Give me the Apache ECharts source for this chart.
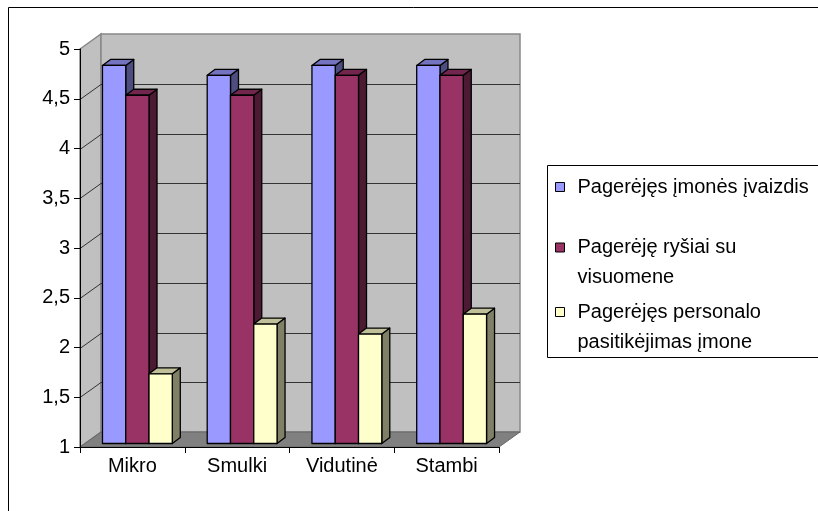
<!DOCTYPE html>
<html>
<head>
<meta charset="utf-8">
<script src="https://cdn.jsdelivr.net/npm/echarts@6/dist/echarts.min.js"></script>
<style>html,body{margin:0;padding:0;background:#fff;}#c{width:818px;height:511px;}</style>
</head>
<body>
<div id="c"></div>
<script>
// ---- data ----
const categories = ['Mikro', 'Smulki', 'Vidutinė', 'Stambi'];
const seriesNames = ['Pagerėjęs įmonės įvaizdis', 'Pagerėję ryšiai su visuomene', 'Pagerėjęs personalo pasitikėjimas įmone'];
const legendLabels = ['Pagerėjęs įmonės įvaizdis', 'Pagerėję ryšiai su\nvisuomene', 'Pagerėjęs personalo\npasitikėjimas įmone'];
const imageValues = [4.8, 4.7, 4.8, 4.8];
const relationsValues = [4.5, 4.5, 4.7, 4.7];
const trustValues = [1.7, 2.2, 2.1, 2.3];
const yMin = 1, yMax = 5, yStep = 0.5;

// ---- styles ----
const FONT = '"Liberation Sans", Arial, sans-serif';
const FS = 20;
const LH = 30;
const frontColors = ['#9999ff', '#993366', '#ffffcc'];
const sideColors = ['#4d4d80', '#4d1a33', '#808066'];
const topColors = ['#7373bf', '#73264d', '#bfbf99'];
const WDX = 21, WDY = -15;      // wall depth
const SX = 5, SY = -3.5;        // bar placement offset
const BDX = 8, BDY = -6;        // bar depth

const allValues = [imageValues, relationsValues, trustValues];

function barRenderer(si) {
  return function (params, api) {
    const cat = api.value(0), val = api.value(1);
    const top = api.coord([cat, val]);
    const base = api.coord([cat, yMin]);
    const band = api.size([1, 0])[0];
    const w = band * 2 / 9;
    const x0 = top[0] - band / 3 + si * w + SX;
    const x1 = x0 + w;
    const yt = top[1] + SY;
    const yb = base[1] + SY;
    const st = { stroke: '#000', lineWidth: 1.3, lineJoin: 'round' };
    return {
      type: 'group',
      children: [
        { type: 'polygon', shape: { points: [[x1, yt], [x1 + BDX, yt + BDY], [x1 + BDX, yb + BDY], [x1, yb]] },
          style: Object.assign({ fill: sideColors[si] }, st) },
        { type: 'polygon', shape: { points: [[x0, yt], [x0 + BDX, yt + BDY], [x1 + BDX, yt + BDY], [x1, yt]] },
          style: Object.assign({ fill: topColors[si] }, st) },
        { type: 'rect', shape: { x: x0, y: yt, width: w, height: yb - yt },
          style: Object.assign({ fill: frontColors[si] }, st) }
      ]
    };
  };
}

function wallRenderer(params, api) {
  const cs = params.coordSys;
  const gx = cs.x, gw = cs.width;
  const yTop = api.coord([0, yMax])[1];
  const yBot = api.coord([0, yMin])[1];
  const children = [];
  children.push({ type: 'polygon', shape: { points: [[gx, yTop], [gx + WDX, yTop + WDY], [gx + WDX, yBot + WDY], [gx, yBot]] },
    style: { fill: '#c0c0c0', stroke: '#888', lineWidth: 1.5 } });
  children.push({ type: 'rect', shape: { x: gx + WDX, y: yTop + WDY, width: gw, height: yBot - yTop },
    style: { fill: '#c0c0c0', stroke: '#888', lineWidth: 1.5 } });
  for (let v = yMin + yStep; v < yMax - 1e-9; v += yStep) {
    const y = Math.round(api.coord([0, v])[1]) + 0.5;
    children.push({ type: 'line', shape: { x1: gx + WDX, y1: y + WDY, x2: gx + gw + WDX, y2: y + WDY },
      style: { stroke: '#333', lineWidth: 1 } });
    children.push({ type: 'line', shape: { x1: gx, y1: y, x2: gx + WDX, y2: y + WDY },
      style: { stroke: '#333', lineWidth: 1 } });
  }
  children.push({ type: 'polygon', shape: { points: [[gx, yBot], [gx + WDX, yBot + WDY], [gx + gw + WDX, yBot + WDY], [gx + gw, yBot]] },
    style: { fill: '#808080', stroke: '#666', lineWidth: 1 } });
  return { type: 'group', children: children };
}

const series = [{
  type: 'custom', name: '__wall', silent: true, z: 1,
  renderItem: wallRenderer, data: [[0, yMin]], legendHoverLink: false
}];
for (let i = 0; i < 3; i++) {
  series.push({
    type: 'custom', name: seriesNames[i], z: 2 + i,
    itemStyle: { color: frontColors[i] },
    renderItem: barRenderer(i),
    data: allValues[i].map((v, k) => [k, v])
  });
}

// legend: icon aligned with the first text line (an empty leading line keeps the block centred on line 1)
const legendCenters = [187, 247.5, 312];
const legends = seriesNames.map((n, i) => {
  const parts = legendLabels[i].split('\n');
  const extra = parts.length - 1;
  const label = '\n'.repeat(extra) + legendLabels[i];
  return {
    left: 555, top: legendCenters[i] - LH / 2 - extra * LH, padding: 0,
    orient: 'vertical', itemWidth: 9, itemHeight: 9,
    data: [{ name: n, icon: 'rect' }],
    itemStyle: { borderColor: '#000', borderWidth: 1 },
    formatter: () => label,
    textStyle: { fontFamily: FONT, fontSize: FS, color: '#000', lineHeight: LH, padding: [0, 0, 0, 8] }
  };
});

const chart = echarts.init(document.getElementById('c'), null, { renderer: 'canvas' });
chart.setOption({
  animation: false,
  backgroundColor: '#fff',
  graphic: [
    { type: 'rect', z: -10, silent: true, shape: { x: 8.5, y: 7.5, width: 1000, height: 1000 },
      style: { fill: 'none', stroke: '#000', lineWidth: 1 } },
    { type: 'rect', z: 0, silent: true, shape: { x: 547.5, y: 165.5, width: 400, height: 192 },
      style: { fill: '#fff', stroke: '#000', lineWidth: 1 } }
  ],
  legend: legends,
  grid: { left: 80, top: 49, width: 419, height: 398, containLabel: false },
  xAxis: {
    type: 'category', data: categories, z: 10,
    axisLine: { lineStyle: { color: '#000', width: 1 } },
    axisTick: { show: true, length: 6, lineStyle: { color: '#000' } },
    axisLabel: { color: '#000', fontFamily: FONT, fontSize: FS, margin: 9 },
    splitLine: { show: false }
  },
  yAxis: {
    type: 'value', min: yMin, max: yMax, interval: yStep, z: 10,
    axisLine: { show: true, lineStyle: { color: '#000', width: 1 } },
    axisTick: { show: true, length: 6, lineStyle: { color: '#000' } },
    axisLabel: { color: '#000', fontFamily: FONT, fontSize: FS, margin: 10,
      formatter: v => String(v).replace('.', ',') },
    splitLine: { show: false }
  },
  series: series
});
</script>
</body>
</html>
